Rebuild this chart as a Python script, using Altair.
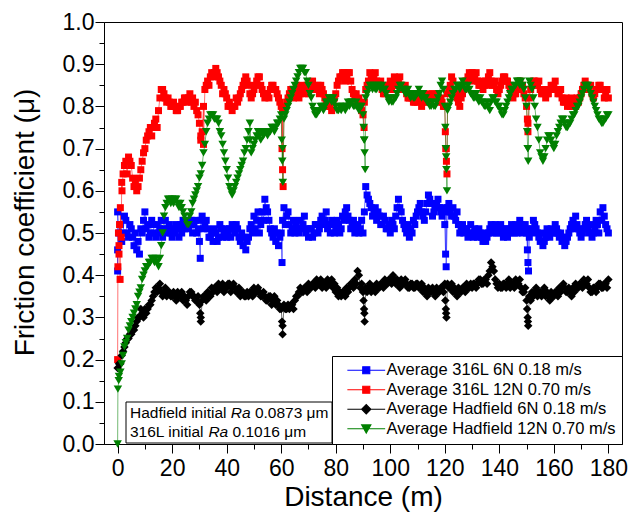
import altair as alt
import pandas as pd

FONT = "Liberation Sans"

SERIES = [
    "Average 316L 6N 0.18 m/s",
    "Average 316L 12N 0.70 m/s",
    "Average Hadfield 6N 0.18 m/s",
    "Average Hadfield 12N 0.70 m/s",
]
COLORS = ["#0000ff", "#ff0000", "#000000", "#008000"]
MARKERS = ["square", "square", "diamond", "triangle-down"]
MARKER_SIZES = [49, 49, 72, 72]
# legend symbols: marker with a short line through it
LEGEND_PATHS = [
    "M-5.4,0H5.4M-1,-1H1V1H-1Z",
    "M-5.4,0H5.4M-1,-1H1V1H-1Z",
    "M-5.4,0H5.4M-1.3,0L0,-1.3L1.3,0L0,1.3Z",
    "M-5.4,0H5.4M-1.3,-1.1H1.3L0,1.2Z",
]

# distances (m): whole metres and the half-metre readings between them
DIST = list(range(0, 181))
HALF_DIST = [i + 0.5 for i in range(180)]

BLUE_316L_6N = [
    0.46, 0.52, 0.50, 0.53, 0.49, 0.51, 0.47, 0.46, 0.45, 0.50,
    0.55, 0.52, 0.50, 0.52, 0.49, 0.50, 0.53, 0.51, 0.50, 0.52,
    0.49, 0.50, 0.51, 0.52, 0.53, 0.52, 0.51, 0.53, 0.52, 0.50,
    0.48, 0.54, 0.52, 0.51, 0.49, 0.48, 0.50, 0.49, 0.51, 0.50,
    0.49, 0.51, 0.52, 0.50, 0.51, 0.48, 0.47, 0.46, 0.49, 0.52,
    0.54, 0.53, 0.50, 0.55, 0.58, 0.55, 0.51, 0.49, 0.48, 0.47,
    0.50, 0.56, 0.54, 0.52, 0.51, 0.50, 0.51, 0.53, 0.52, 0.50,
    0.49, 0.51, 0.50, 0.52, 0.51, 0.54, 0.53, 0.51, 0.50, 0.52,
    0.51, 0.52, 0.51, 0.53, 0.56, 0.53, 0.52, 0.50, 0.52, 0.51,
    0.50, 0.61, 0.58, 0.56, 0.55, 0.53, 0.54, 0.52, 0.53, 0.51,
    0.50, 0.52, 0.54, 0.58, 0.55, 0.52, 0.50, 0.49, 0.50, 0.52,
    0.55, 0.57, 0.54, 0.55, 0.59, 0.57, 0.55, 0.57, 0.56, 0.54,
    0.52, 0.56, 0.55, 0.56, 0.53, 0.52, 0.51, 0.50, 0.51, 0.50,
    0.50, 0.51, 0.49, 0.50, 0.48, 0.48, 0.50, 0.52, 0.51, 0.50,
    0.50, 0.51, 0.50, 0.49, 0.50, 0.51, 0.52, 0.51, 0.52, 0.51,
    0.50, 0.49, 0.51, 0.52, 0.50, 0.48, 0.47, 0.49, 0.50, 0.51,
    0.50, 0.51, 0.49, 0.48, 0.47, 0.49, 0.51, 0.53, 0.54, 0.51,
    0.49, 0.51, 0.53, 0.50, 0.49, 0.51, 0.52, 0.55, 0.56, 0.52,
    0.50,
]
BLUE_316L_6N_HALF = [
    0.50, 0.48, 0.54, 0.50, 0.52, 0.49, 0.50, 0.48, 0.51, 0.53,
    0.51, 0.49, 0.53, 0.50, 0.52, 0.51, 0.49, 0.53, 0.51, 0.50,
    0.51, 0.52, 0.49, 0.50, 0.51, 0.53, 0.52, 0.50, 0.53, 0.51,
    0.53, 0.51, 0.53, 0.49, 0.50, 0.51, 0.48, 0.52, 0.49, 0.51,
    0.50, 0.49, 0.51, 0.52, 0.49, 0.50, 0.49, 0.48, 0.51, 0.50,
    0.51, 0.55, 0.52, 0.53, 0.56, 0.53, 0.50, 0.51, 0.50, 0.49,
    0.53, 0.52, 0.55, 0.50, 0.53, 0.52, 0.50, 0.51, 0.54, 0.51,
    0.51, 0.49, 0.52, 0.50, 0.53, 0.52, 0.55, 0.52, 0.53, 0.50,
    0.53, 0.50, 0.54, 0.55, 0.54, 0.51, 0.53, 0.51, 0.50, 0.53,
    0.55, 0.59, 0.57, 0.54, 0.56, 0.55, 0.52, 0.54, 0.51, 0.52,
    0.53, 0.51, 0.56, 0.56, 0.53, 0.51, 0.52, 0.51, 0.53, 0.54,
    0.56, 0.55, 0.53, 0.57, 0.58, 0.54, 0.56, 0.58, 0.55, 0.56,
    0.55, 0.57, 0.54, 0.54, 0.55, 0.50, 0.52, 0.51, 0.49, 0.52,
    0.49, 0.50, 0.51, 0.49, 0.50, 0.49, 0.51, 0.50, 0.52, 0.51,
    0.52, 0.49, 0.51, 0.51, 0.52, 0.50, 0.50, 0.53, 0.50, 0.52,
    0.51, 0.50, 0.53, 0.51, 0.49, 0.50, 0.48, 0.51, 0.49, 0.50,
    0.52, 0.50, 0.50, 0.49, 0.48, 0.50, 0.52, 0.51, 0.52, 0.50,
    0.50, 0.52, 0.51, 0.52, 0.50, 0.53, 0.50, 0.53, 0.54, 0.51,
]
BLUE_EXTRA_D = [0.0, 0.0, 30.3, 60.3, 120.3, 120.5, 150.3, 150.5, 150.7]
BLUE_EXTRA_V = [0.41, 0.55, 0.44, 0.43, 0.45, 0.42, 0.46, 0.43, 0.41]

RED_316L_12N = [
    0.20, 0.56, 0.64, 0.67, 0.68, 0.66, 0.61, 0.60, 0.63, 0.67,
    0.70, 0.73, 0.75, 0.75, 0.77, 0.79, 0.84, 0.83, 0.81, 0.81,
    0.80, 0.80, 0.79, 0.80, 0.81, 0.82, 0.82, 0.81, 0.80, 0.79,
    0.76, 0.74, 0.84, 0.86, 0.87, 0.87, 0.89, 0.87, 0.85, 0.84,
    0.82, 0.81, 0.79, 0.80, 0.81, 0.83, 0.85, 0.87, 0.85, 0.82,
    0.84, 0.86, 0.87, 0.84, 0.82, 0.83, 0.84, 0.85, 0.84, 0.82,
    0.80, 0.79, 0.81, 0.83, 0.84, 0.83, 0.84, 0.83, 0.84, 0.84,
    0.83, 0.84, 0.85, 0.84, 0.83, 0.84, 0.82, 0.80, 0.80, 0.81,
    0.83, 0.86, 0.87, 0.88, 0.87, 0.88, 0.84, 0.82, 0.81, 0.80,
    0.78, 0.84, 0.86, 0.87, 0.87, 0.86, 0.85, 0.84, 0.83, 0.84,
    0.86, 0.85, 0.86, 0.86, 0.85, 0.84, 0.83, 0.82, 0.82, 0.81,
    0.81, 0.82, 0.81, 0.81, 0.82, 0.82, 0.83, 0.82, 0.81, 0.81,
    0.80, 0.83, 0.85, 0.86, 0.83, 0.81, 0.82, 0.84, 0.86, 0.88,
    0.88, 0.87, 0.86, 0.85, 0.84, 0.86, 0.87, 0.86, 0.85, 0.84,
    0.84, 0.86, 0.87, 0.86, 0.84, 0.82, 0.83, 0.85, 0.84, 0.83,
    0.80, 0.82, 0.85, 0.86, 0.85, 0.84, 0.83, 0.82, 0.83, 0.85,
    0.85, 0.84, 0.83, 0.82, 0.81, 0.80, 0.80, 0.81, 0.80, 0.81,
    0.83, 0.85, 0.85, 0.84, 0.83, 0.83, 0.84, 0.85, 0.84, 0.83,
    0.82,
]
RED_316L_12N_HALF = [
    0.47, 0.62, 0.66, 0.64, 0.67, 0.63, 0.62, 0.61, 0.65, 0.69,
    0.72, 0.74, 0.73, 0.76, 0.75, 0.82, 0.84, 0.82, 0.82, 0.80,
    0.81, 0.79, 0.80, 0.81, 0.82, 0.81, 0.83, 0.82, 0.81, 0.78,
    0.73, 0.80, 0.85, 0.85, 0.88, 0.88, 0.88, 0.86, 0.83, 0.83,
    0.80, 0.80, 0.80, 0.82, 0.82, 0.84, 0.86, 0.86, 0.83, 0.83,
    0.85, 0.87, 0.85, 0.83, 0.83, 0.82, 0.85, 0.84, 0.83, 0.81,
    0.79, 0.80, 0.82, 0.84, 0.82, 0.85, 0.82, 0.85, 0.83, 0.85,
    0.84, 0.86, 0.84, 0.85, 0.85, 0.83, 0.81, 0.81, 0.79, 0.82,
    0.85, 0.87, 0.88, 0.86, 0.88, 0.86, 0.83, 0.83, 0.82, 0.79,
    0.81, 0.85, 0.88, 0.86, 0.88, 0.85, 0.86, 0.83, 0.85, 0.85,
    0.84, 0.87, 0.85, 0.87, 0.84, 0.85, 0.82, 0.83, 0.81, 0.82,
    0.83, 0.80, 0.82, 0.83, 0.81, 0.83, 0.82, 0.83, 0.82, 0.80,
    0.70, 0.84, 0.87, 0.84, 0.82, 0.80, 0.83, 0.86, 0.87, 0.87,
    0.86, 0.88, 0.85, 0.86, 0.85, 0.85, 0.88, 0.85, 0.86, 0.83,
    0.85, 0.87, 0.86, 0.85, 0.83, 0.83, 0.84, 0.86, 0.85, 0.82,
    0.76, 0.84, 0.86, 0.85, 0.86, 0.83, 0.84, 0.83, 0.84, 0.84,
    0.86, 0.83, 0.84, 0.81, 0.82, 0.81, 0.82, 0.80, 0.82, 0.82,
    0.84, 0.86, 0.84, 0.85, 0.82, 0.84, 0.85, 0.84, 0.82, 0.84,
]
RED_EXTRA_D = [0.1, 0.3, 0.5, 0.7, 0.9, 1.3, 1.6, 30.5, 31.5, 60.3, 60.5, 60.7,
               90.4, 120.2, 120.4, 120.6, 120.8, 150.3, 150.5]
RED_EXTRA_V = [0.42, 0.50, 0.45, 0.52, 0.39, 0.49, 0.60, 0.72, 0.71, 0.70, 0.65, 0.61,
               0.75, 0.74, 0.70, 0.67, 0.64, 0.77, 0.74]

BLACK_HAD_6N = [
    0.18, 0.19, 0.22, 0.24, 0.25, 0.26, 0.27, 0.29, 0.30, 0.31,
    0.32, 0.32, 0.33, 0.35, 0.37, 0.37, 0.36, 0.36, 0.35, 0.36,
    0.35, 0.35, 0.36, 0.35, 0.34, 0.34, 0.35, 0.36, 0.35, 0.34,
    0.33, 0.34, 0.35, 0.36, 0.35, 0.36, 0.37, 0.38, 0.37, 0.36,
    0.37, 0.38, 0.37, 0.37, 0.36, 0.35, 0.36, 0.35, 0.35, 0.36,
    0.37, 0.36, 0.36, 0.35, 0.35, 0.34, 0.35, 0.34, 0.33, 0.33,
    0.32, 0.33, 0.32, 0.32, 0.33, 0.34, 0.35, 0.37, 0.36, 0.37,
    0.38, 0.37, 0.38, 0.39, 0.38, 0.37, 0.38, 0.39, 0.38, 0.37,
    0.36, 0.35, 0.35, 0.36, 0.37, 0.37, 0.38, 0.39, 0.41, 0.37,
    0.36, 0.37, 0.37, 0.36, 0.37, 0.38, 0.37, 0.38, 0.39, 0.38,
    0.39, 0.40, 0.38, 0.38, 0.39, 0.38, 0.38, 0.37, 0.38, 0.37,
    0.38, 0.37, 0.36, 0.36, 0.37, 0.36, 0.36, 0.37, 0.36, 0.37,
    0.38, 0.38, 0.37, 0.36, 0.36, 0.37, 0.36, 0.37, 0.38, 0.37,
    0.37, 0.38, 0.38, 0.39, 0.38, 0.39, 0.40, 0.43, 0.41, 0.38,
    0.38, 0.37, 0.38, 0.38, 0.37, 0.38, 0.39, 0.38, 0.37, 0.36,
    0.34, 0.35, 0.36, 0.36, 0.35, 0.36, 0.36, 0.35, 0.35, 0.36,
    0.35, 0.36, 0.37, 0.37, 0.37, 0.36, 0.36, 0.37, 0.38, 0.37,
    0.38, 0.39, 0.38, 0.37, 0.36, 0.37, 0.37, 0.38, 0.37, 0.38,
    0.39,
]
BLACK_HAD_6N_HALF = [
    0.19, 0.21, 0.23, 0.25, 0.26, 0.27, 0.28, 0.30, 0.32, 0.30,
    0.31, 0.33, 0.34, 0.36, 0.36, 0.38, 0.35, 0.37, 0.36, 0.35,
    0.36, 0.34, 0.35, 0.36, 0.35, 0.33, 0.36, 0.35, 0.34, 0.35,
    0.30, 0.35, 0.34, 0.35, 0.37, 0.37, 0.36, 0.37, 0.38, 0.37,
    0.38, 0.36, 0.38, 0.36, 0.37, 0.36, 0.35, 0.36, 0.36, 0.35,
    0.36, 0.37, 0.35, 0.36, 0.34, 0.35, 0.33, 0.35, 0.34, 0.32,
    0.28, 0.32, 0.33, 0.33, 0.32, 0.35, 0.36, 0.36, 0.37, 0.36,
    0.37, 0.38, 0.37, 0.38, 0.39, 0.38, 0.37, 0.38, 0.39, 0.38,
    0.37, 0.36, 0.36, 0.35, 0.36, 0.38, 0.37, 0.38, 0.40, 0.38,
    0.31, 0.36, 0.38, 0.37, 0.36, 0.37, 0.38, 0.37, 0.38, 0.39,
    0.38, 0.39, 0.39, 0.37, 0.38, 0.39, 0.37, 0.38, 0.37, 0.38,
    0.37, 0.38, 0.37, 0.35, 0.36, 0.37, 0.35, 0.36, 0.37, 0.36,
    0.31, 0.37, 0.38, 0.37, 0.35, 0.36, 0.37, 0.36, 0.37, 0.38,
    0.38, 0.37, 0.39, 0.38, 0.39, 0.38, 0.41, 0.42, 0.39, 0.37,
    0.37, 0.38, 0.37, 0.39, 0.38, 0.37, 0.38, 0.39, 0.36, 0.37,
    0.29, 0.34, 0.35, 0.37, 0.36, 0.35, 0.37, 0.36, 0.34, 0.35,
    0.36, 0.35, 0.36, 0.38, 0.36, 0.37, 0.35, 0.36, 0.37, 0.38,
    0.37, 0.38, 0.39, 0.36, 0.37, 0.36, 0.38, 0.37, 0.38, 0.37,
]
BLACK_EXTRA_D = [30.3, 30.5, 60.3, 60.5, 90.2, 90.4, 90.6, 120.2, 120.4, 120.6,
                 150.2, 150.4, 150.6]
BLACK_EXTRA_V = [0.31, 0.29, 0.29, 0.26, 0.34, 0.32, 0.29, 0.34, 0.32, 0.30,
                 0.32, 0.30, 0.28]

GREEN_HAD_12N = [
    0.00, 0.17, 0.21, 0.24, 0.27, 0.29, 0.31, 0.33, 0.36, 0.39,
    0.41, 0.42, 0.43, 0.44, 0.44, 0.42, 0.47, 0.54, 0.57, 0.58,
    0.58, 0.58, 0.57, 0.57, 0.55, 0.53, 0.52, 0.55, 0.58, 0.60,
    0.63, 0.66, 0.71, 0.76, 0.78, 0.78, 0.77, 0.76, 0.73, 0.69,
    0.65, 0.61, 0.59, 0.61, 0.63, 0.65, 0.67, 0.70, 0.74, 0.69,
    0.71, 0.73, 0.73, 0.74, 0.74, 0.73, 0.74, 0.75, 0.75, 0.76,
    0.78, 0.77, 0.79, 0.81, 0.83, 0.85, 0.87, 0.89, 0.89, 0.88,
    0.85, 0.82, 0.79, 0.78, 0.79, 0.80, 0.80, 0.81, 0.82, 0.82,
    0.80, 0.79, 0.79, 0.80, 0.80, 0.80, 0.81, 0.80, 0.80, 0.80,
    0.78, 0.82, 0.84, 0.85, 0.85, 0.84, 0.85, 0.85, 0.84, 0.82,
    0.82, 0.81, 0.82, 0.84, 0.85, 0.84, 0.83, 0.83, 0.83, 0.82,
    0.83, 0.83, 0.83, 0.82, 0.81, 0.80, 0.80, 0.81, 0.83, 0.86,
    0.80, 0.79, 0.81, 0.83, 0.84, 0.85, 0.85, 0.85, 0.84, 0.84,
    0.83, 0.82, 0.82, 0.82, 0.81, 0.80, 0.80, 0.81, 0.82, 0.81,
    0.80, 0.78, 0.79, 0.81, 0.83, 0.84, 0.85, 0.86, 0.86, 0.84,
    0.80, 0.86, 0.84, 0.80, 0.75, 0.69, 0.67, 0.70, 0.73, 0.72,
    0.70, 0.73, 0.75, 0.77, 0.76, 0.75, 0.76, 0.78, 0.79, 0.80,
    0.82, 0.84, 0.85, 0.84, 0.82, 0.80, 0.78, 0.77, 0.76, 0.77,
    0.78,
]
GREEN_HAD_12N_HALF = [
    0.16, 0.19, 0.23, 0.25, 0.28, 0.30, 0.32, 0.35, 0.37, 0.40,
    0.42, 0.43, 0.44, 0.43, 0.43, 0.44, 0.50, 0.56, 0.58, 0.57,
    0.57, 0.58, 0.56, 0.56, 0.54, 0.52, 0.54, 0.57, 0.59, 0.61,
    0.64, 0.69, 0.74, 0.77, 0.78, 0.77, 0.77, 0.74, 0.71, 0.67,
    0.63, 0.60, 0.60, 0.62, 0.64, 0.66, 0.69, 0.72, 0.72, 0.70,
    0.72, 0.74, 0.72, 0.73, 0.74, 0.74, 0.75, 0.74, 0.76, 0.77,
    0.70, 0.78, 0.80, 0.82, 0.84, 0.86, 0.88, 0.89, 0.88, 0.86,
    0.83, 0.80, 0.78, 0.79, 0.80, 0.79, 0.81, 0.82, 0.81, 0.81,
    0.79, 0.80, 0.80, 0.79, 0.81, 0.81, 0.80, 0.81, 0.79, 0.80,
    0.72, 0.83, 0.85, 0.84, 0.84, 0.85, 0.84, 0.84, 0.83, 0.81,
    0.81, 0.82, 0.83, 0.85, 0.84, 0.83, 0.84, 0.82, 0.82, 0.83,
    0.84, 0.82, 0.82, 0.81, 0.80, 0.81, 0.80, 0.82, 0.85, 0.84,
    0.68, 0.80, 0.82, 0.84, 0.85, 0.84, 0.86, 0.84, 0.85, 0.83,
    0.82, 0.83, 0.81, 0.81, 0.80, 0.81, 0.79, 0.82, 0.81, 0.80,
    0.79, 0.78, 0.80, 0.82, 0.84, 0.85, 0.86, 0.85, 0.85, 0.82,
    0.70, 0.85, 0.82, 0.77, 0.72, 0.68, 0.68, 0.72, 0.73, 0.71,
    0.71, 0.74, 0.76, 0.77, 0.75, 0.76, 0.77, 0.78, 0.80, 0.81,
    0.83, 0.85, 0.85, 0.83, 0.81, 0.79, 0.77, 0.76, 0.77, 0.78,
]
GREEN_EXTRA_D = [0.1, 0.4, 48.5, 60.2, 60.4, 60.6, 90.2, 90.4, 90.6, 90.8,
                 120.2, 120.4, 120.6, 120.8, 150.2, 150.4, 150.6]
GREEN_EXTRA_V = [0.13, 0.15, 0.76, 0.72, 0.67, 0.62, 0.75, 0.72, 0.69, 0.65,
                 0.75, 0.70, 0.65, 0.60, 0.74, 0.70, 0.67]

X_MAJOR = list(range(0, 181, 20))
X_MINOR = list(range(10, 181, 20))
Y_MAJOR = [0.0, 0.1, 0.2, 0.3, 0.4, 0.5, 0.6, 0.7, 0.8, 0.9, 1.0]
Y_MINOR = [0.05, 0.15, 0.25, 0.35, 0.45, 0.55, 0.65, 0.75, 0.85, 0.95]


def build(name, base, half, ex_d, ex_v):
    rows = list(zip(DIST, base)) + list(zip(HALF_DIST, half)) + list(zip(ex_d, ex_v))
    rows.sort(key=lambda r: r[0])
    return pd.DataFrame({"d": [r[0] for r in rows],
                         "mu": [r[1] for r in rows],
                         "series": name})


df = pd.concat([
    build(SERIES[0], BLUE_316L_6N, BLUE_316L_6N_HALF, BLUE_EXTRA_D, BLUE_EXTRA_V),
    build(SERIES[1], RED_316L_12N, RED_316L_12N_HALF, RED_EXTRA_D, RED_EXTRA_V),
    build(SERIES[2], BLACK_HAD_6N, BLACK_HAD_6N_HALF, BLACK_EXTRA_D, BLACK_EXTRA_V),
    build(SERIES[3], GREEN_HAD_12N, GREEN_HAD_12N_HALF, GREEN_EXTRA_D, GREEN_EXTRA_V),
], ignore_index=True)
df["idx"] = range(len(df))

xscale = alt.Scale(domain=[-5, 185], nice=False, zero=False)
yscale = alt.Scale(domain=[0, 1.0], nice=False, zero=False)
cscale = alt.Scale(domain=SERIES, range=COLORS)

x_axis = alt.Axis(
    orient="bottom", values=X_MAJOR, tickSize=9, format="d",
    labelFontSize=23, labelPadding=4, labelFlush=False,
    title="Distance (m)", titleFontSize=28, titleY=61, titleBaseline="alphabetic",
)
y_axis = alt.Axis(
    orient="left", values=Y_MAJOR, tickSize=9, format=".1f",
    labelFontSize=23, labelPadding=1, labelFlush=False,
    title="Friction coefficient (\u03bc)", titleFontSize=28,
    titleX=-71, titleY=200, titleBaseline="alphabetic", titleAngle=-90,
)
x_minor = alt.Axis(orient="bottom", values=X_MINOR, tickSize=5, labels=False,
                   domain=False, title=None)
y_minor = alt.Axis(orient="left", values=Y_MINOR, tickSize=5, labels=False,
                   domain=False, title=None)

leg = alt.Legend(title=None)

# legend-only layer (no rows drawn) giving legend symbols with line + marker
legend_layer = alt.Chart(df).transform_filter("datum.d < -1000").mark_point(
    filled=True, size=49, strokeWidth=1.2, opacity=1
).encode(
    x=alt.X("d:Q", scale=xscale, axis=x_minor),
    y=alt.Y("mu:Q", scale=yscale, axis=y_minor),
    color=alt.Color("series:N", scale=cscale, legend=leg),
    stroke=alt.Stroke("series:N", scale=alt.Scale(domain=SERIES, range=COLORS), legend=leg),
    shape=alt.Shape("series:N", scale=alt.Scale(domain=SERIES, range=LEGEND_PATHS), legend=leg),
)

lines = alt.Chart(df).mark_line(strokeWidth=1, opacity=0.55).encode(
    x=alt.X("d:Q", scale=xscale, axis=x_axis),
    y=alt.Y("mu:Q", scale=yscale, axis=y_axis),
    color=alt.Color("series:N", scale=cscale, legend=leg),
    order=alt.Order("idx:Q"),
)

point_layers = []
for name, shp, sz in zip(SERIES, MARKERS, MARKER_SIZES):
    point_layers.append(
        alt.Chart(df).transform_filter(alt.datum.series == name)
        .mark_point(shape=shp, size=sz, filled=True, opacity=1)
        .encode(
            x=alt.X("d:Q", scale=xscale, axis=x_axis),
            y=alt.Y("mu:Q", scale=yscale, axis=y_axis),
            color=alt.Color("series:N", scale=cscale, legend=leg),
        )
    )

one = pd.DataFrame({"k": [0]})
box = alt.Chart(one).mark_rect(fill="white", stroke="black", strokeWidth=1).encode(
    x=alt.value(22), x2=alt.value(228), y=alt.value(380), y2=alt.value(421)
)


def txt(s, x, y, italic=False):
    return alt.Chart(one).mark_text(
        text=s, align="left", baseline="alphabetic", font=FONT, fontSize=15.5,
        fontStyle="italic" if italic else "normal", color="black",
    ).encode(x=alt.value(x), y=alt.value(y))


texts = [
    txt("Hadfield initial", 26, 396),
    txt("Ra", 126.8, 396, True),
    txt("0.0873 \u03bcm", 150.9, 396),
    txt("316L initial", 26, 415),
    txt("Ra", 104.4, 415, True),
    txt("0.1016 \u03bcm", 128.5, 415),
]

main = alt.layer(lines, *point_layers)
chart = alt.layer(legend_layer, main, box, *texts).resolve_axis(
    x="independent", y="independent"
).properties(
    width=518, height=422,
    padding={"left": 104, "top": 22, "right": 9, "bottom": 73},
    autosize=alt.AutoSizeParams(type="none"),
).configure(font=FONT).configure_axis(
    labelFont=FONT, titleFont=FONT, labelColor="black", titleColor="black",
    domainColor="black", tickColor="black", grid=False, titleFontWeight="normal",
    domainWidth=1, tickWidth=1,
).configure_view(stroke="black", strokeWidth=1).configure_legend(
    orient="bottom-right", offset=0, strokeColor="black", fillColor="white",
    padding=6, labelFont=FONT, labelFontSize=16.5, labelColor="black", labelLimit=400,
    symbolSize=49, symbolStrokeWidth=1.2, symbolOffset=20, labelOffset=12,
    rowPadding=2.5, cornerRadius=0,
)

chart.save("out.html", embed_options={"renderer": "svg", "actions": False})
